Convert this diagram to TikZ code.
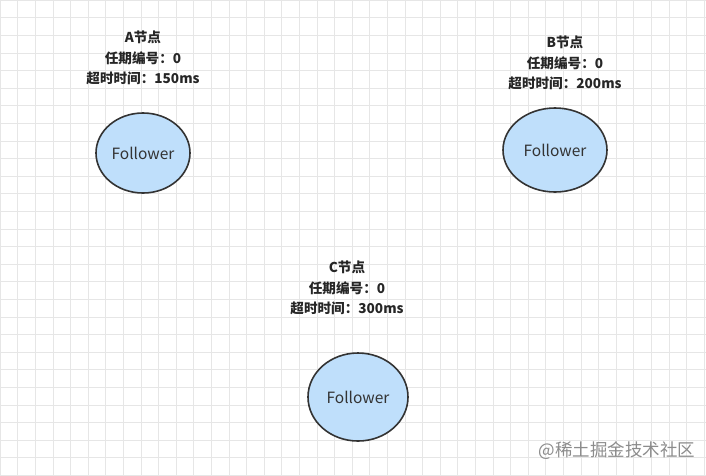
\documentclass[tikz,border=0pt]{standalone}
\usepackage{fontspec}
\setmainfont{Noto Sans CJK SC}
\usetikzlibrary{shapes.geometric}
\definecolor{nodefill}{HTML}{BFDFFB}
\definecolor{gridc}{HTML}{E6E6E6}
\tikzset{
  fol/.style={ellipse,draw=black!80,line width=1.6pt,fill=nodefill,font=\fontsize{15.5}{17}\selectfont,text=black!80,inner sep=0pt},
  lbl/.style={align=center,font=\bfseries\fontsize{13.6}{20.5}\selectfont,text=black!85}
}
\begin{document}
\begin{tikzpicture}[x=1pt,y=-1pt]
\useasboundingbox (0,0) rectangle (706,475);
\fill[white] (0,0) rectangle (706,475);
\foreach \i in {0,...,40} {\draw[gridc,line width=0.5pt] (\i*17.6,0) -- (\i*17.6,475);}
\foreach \j in {0,...,27} {\draw[gridc,line width=0.5pt] (0,\j*17.6) -- (706,\j*17.6);}
\node[fol,minimum width=94,minimum height=80] (a) at (143,153) {Follower};
\node[fol,minimum width=104,minimum height=84] (b) at (555,150) {Follower};
\node[fol,minimum width=100,minimum height=88] (c) at (358,397) {Follower};
\node[lbl] (la) at (143,58) {A节点\\任期编号：0\\超时时间：150ms};
\node[lbl] (lb) at (565,63) {B节点\\任期编号：0\\超时时间：200ms};
\node[lbl] (lc) at (347,288) {C节点\\任期编号：0\\超时时间：300ms};
\node[text=black!45,font=\fontsize{17.5}{19}\selectfont] (w) at (617,451) {@稀土掘金技术社区};
\end{tikzpicture}
\end{document}
